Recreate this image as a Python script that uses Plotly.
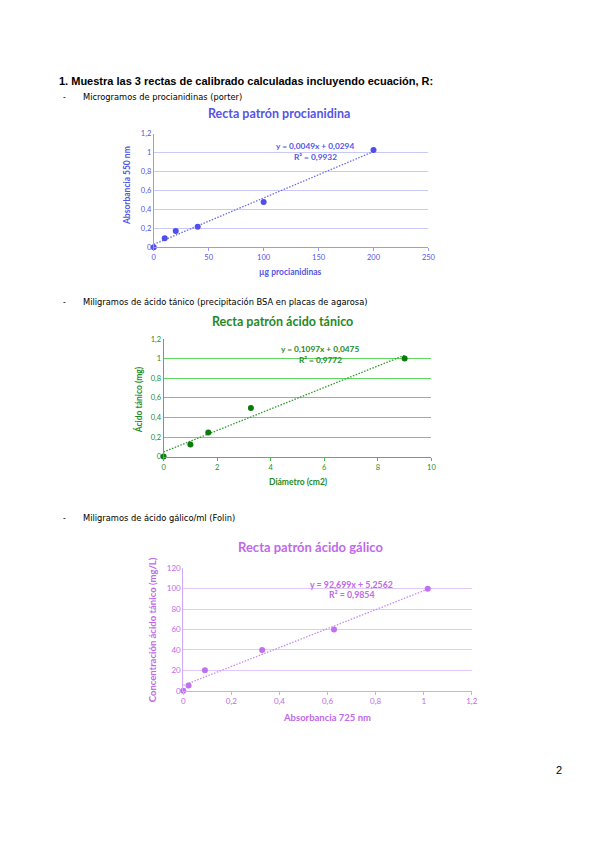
import plotly.graph_objects as go

# The page body has an 8px margin; the figure is sized to fit inside it.
PAD = 8
W, H = 600 - 2 * PAD, 848 - 2 * PAD

# ---- data ----
proc_x = [0, 10, 20, 40, 100, 200]
proc_y = [0, 0.094, 0.171, 0.216, 0.478, 1.026]
proc_fit = (0.0049, 0.0294)

tan_x = [0, 1, 1.67, 3.26, 9]
tan_y = [0, 0.124, 0.245, 0.497, 1.0]
tan_fit = (0.1097, 0.0475)

gal_x = [0, 0.022, 0.09, 0.328, 0.627, 1.017]
gal_y = [0, 5.2, 20, 40, 60, 100]
gal_fit = (92.699, 5.2562)

def fx(px):
    return (px - PAD) / W

def fy(py):
    return 1 - (py - PAD) / H

fig = go.Figure()

charts = [
    dict(x=proc_x, y=proc_y, fit=proc_fit, ax="x", ay="y",
         dom_x=(154, 433), dom_y=(130, 245), xr=[0, 250], xd=50, yr=[0, 1.2], yd=0.2,
         mk="#4f4ff0", line="#6a6af0", grid="#cacaf8", axis="#9a9af2", txt="#5555e6",
         title="Recta patrón procianidina", tpos=(281, 110), tsz=12.5,
         ytitle="Absorbancia 550 nm", ytpos=(127, 183), atsz=8.5, tksz=7.5, eqsz=8.3,
         xtitle="µg procianidinas", xtpos=(293, 270),
         eq="y = 0,0049x + 0,0294", r2="R² = 0,9932", eqpos=(318, 143)),
    dict(x=tan_x, y=tan_y, fit=tan_fit, ax="x2", ay="y2",
         dom_x=(164, 436), dom_y=(338, 457), xr=[0, 10], xd=2, yr=[0, 1.2], yd=0.2,
         mk="#0b7a0b", line="#2a9a2a", grid="#62d862", axis="#3cc43c", txt="#1f8a1f",
         title="Recta patrón ácido tánico", tpos=(285, 320), tsz=12.5,
         ytitle="Ácido tánico (mg)", ytpos=(138, 399), atsz=8.5, tksz=7.5, eqsz=8.3,
         xtitle="Diámetro (cm2)", xtpos=(301, 483),
         eq="y = 0,1097x + 0,0475", r2="R² = 0,9772", eqpos=(323, 348)),
    dict(x=gal_x, y=gal_y, fit=gal_fit, ax="x3", ay="y3",
         dom_x=(184, 477), dom_y=(570, 694), xr=[0, 1.2], xd=0.2, yr=[0, 120], yd=20,
         mk="#c070f2", line="#c888f2", grid="#e4c8fa", axis="#d4a8f6", txt="#c06ae8",
         title="Recta patrón ácido gálico", tpos=(313, 549), tsz=13,
         ytitle="Concentración ácido tánico (mg/L)", ytpos=(153, 632), atsz=9.5, tksz=8, eqsz=8.8,
         xtitle="Absorbancia 725 nm", xtpos=(330, 721),
         eq="y = 92,699x + 5,2562", r2="R² = 0,9854", eqpos=(355, 586)),
]

FONT = "Lato"
annotations = []
layout_axes = {}

def ann(text, px, py, size, color, family, xanchor="center", angle=0):
    return dict(x=fx(px), y=fy(py), xref="paper", yref="paper", text=text,
                showarrow=False, xanchor=xanchor, yanchor="middle", textangle=angle,
                font=dict(family=family, size=size, color=color))

for i, c in enumerate(charts, start=1):
    m, b = c["fit"]
    x0, x1 = min(c["x"]), max(c["x"])
    fig.add_trace(go.Scatter(x=[x0, x1], y=[m * x0 + b, m * x1 + b], mode="lines",
                             line=dict(color=c["line"], width=1.3, dash="1.5px,1.5px"),
                             xaxis=c["ax"], yaxis=c["ay"], showlegend=False, hoverinfo="skip"))
    fig.add_trace(go.Scatter(x=c["x"], y=c["y"], mode="markers",
                             marker=dict(color=c["mk"], size=6),
                             xaxis=c["ax"], yaxis=c["ay"], showlegend=False, cliponaxis=False))
    suffix = "" if i == 1 else str(i)
    layout_axes["xaxis" + suffix] = dict(
        domain=[fx(c["dom_x"][0]), fx(c["dom_x"][1])], range=c["xr"], dtick=c["xd"],
        anchor="y" + suffix, showgrid=False, zeroline=False, showline=True,
        linecolor=c["axis"], linewidth=1, ticks="outside", ticklen=3, tickcolor=c["axis"],
        tickfont=dict(family=FONT, size=c["tksz"], color=c["txt"]))
    layout_axes["yaxis" + suffix] = dict(
        domain=[fy(c["dom_y"][1]), fy(c["dom_y"][0])], range=c["yr"], dtick=c["yd"],
        anchor="x" + suffix, showgrid=True, gridcolor=c["grid"], gridwidth=1,
        zeroline=False, showline=True, linecolor=c["axis"], linewidth=1,
        ticks="", tickfont=dict(family=FONT, size=c["tksz"], color=c["txt"]))
    annotations += [
        ann("<b>" + c["title"] + "</b>", *c["tpos"], c["tsz"], c["txt"], FONT),
        ann("<b>" + c["ytitle"] + "</b>", *c["ytpos"], c["atsz"], c["txt"], FONT, angle=-90),
        ann("<b>" + c["xtitle"] + "</b>", *c["xtpos"], c["atsz"], c["txt"], FONT),
        ann("<b>" + c["eq"] + "</b>", *c["eqpos"], c["eqsz"], c["txt"], FONT),
        ann("<b>" + c["r2"] + "</b>", c["eqpos"][0], c["eqpos"][1] + 11, c["eqsz"], c["txt"], FONT),
    ]

doc_title = "<b>1. Muestra las 3 rectas de calibrado calculadas incluyendo ecuación, R:</b>"
doc_items = [
    "Microgramos de procianidinas (porter)",
    "Miligramos de ácido tánico (precipitación BSA en placas de agarosa)",
    "Miligramos de ácido gálico/ml (Folin)",
]
item_y = [93, 301, 519]

annotations.append(ann(doc_title, 56, 77, 11, "#000000", "Liberation Sans", xanchor="left"))
for text, py in zip(doc_items, item_y):
    annotations.append(ann(text, 80, py, 8.3, "#000000", "DejaVu Sans", xanchor="left"))
    annotations.append(ann("-", 60, py, 8.5, "#000000", "Liberation Sans", xanchor="left"))
annotations.append(ann("2", 566, 774, 11, "#000000", "Liberation Sans"))

fig.update_layout(width=W, height=H, margin=dict(l=0, r=0, t=0, b=0),
                  paper_bgcolor="white", plot_bgcolor="white", separators=",.",
                  annotations=annotations, **layout_axes)

fig.write_html("out.html")
